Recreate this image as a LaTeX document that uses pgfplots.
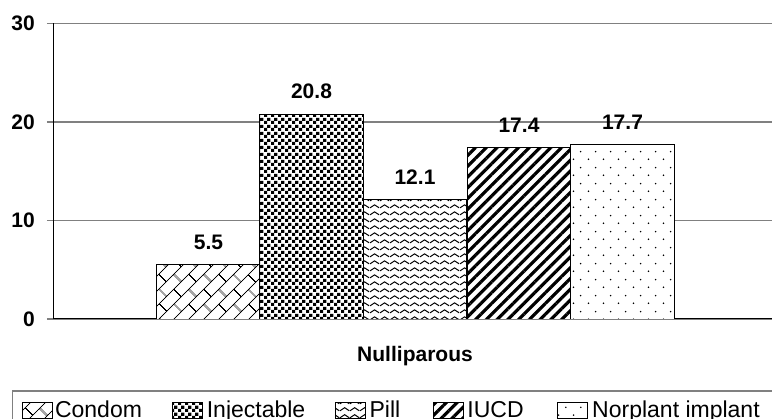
\documentclass[border=0pt]{standalone}
\usepackage{fontspec}
\setmainfont{Liberation Sans}
\usepackage{pgfplots}
\pgfplotsset{compat=1.18}
\usetikzlibrary{patterns,patterns.meta}

\tikzdeclarepattern{name=dbricks, type=uncolored,
  bounding box={(0pt,0pt) and (21pt,21.2pt)}, tile size={(21pt,21.2pt)},
  tile transformation={rotate=45},
  code={\draw[line width=0.9pt] (-1pt,1pt)--(22pt,1pt) (-1pt,11.6pt)--(22pt,11.6pt)
        (5pt,1pt)--(5pt,11.6pt) (15.5pt,11.6pt)--(15.5pt,22.2pt) (15.5pt,-1pt)--(15.5pt,1pt);}}
\tikzdeclarepattern{name=checks, type=uncolored,
  bounding box={(0pt,0pt) and (6.6pt,6.6pt)}, tile size={(6.6pt,6.6pt)},
  code={\fill (0pt,0pt) rectangle (3.3pt,3.3pt); \fill (3.3pt,3.3pt) rectangle (6.6pt,6.6pt);}}
\tikzdeclarepattern{name=waves, type=uncolored,
  bounding box={(0pt,0pt) and (10pt,7pt)}, tile size={(10pt,7pt)},
  code={\draw[line width=1.1pt] (0pt,1.3pt) cos (2.5pt,3pt) sin (5pt,4.7pt) cos (7.5pt,3pt) sin (10pt,1.3pt);}}
\tikzdeclarepattern{name=sdots, type=uncolored,
  bounding box={(0pt,0pt) and (15pt,16pt)}, tile size={(15pt,16pt)},
  code={\fill (3.75pt,4pt) circle (0.9pt); \fill (11.25pt,12pt) circle (0.9pt);}}

\newcommand\lf{\fontsize{21}{25}\selectfont}
\newcommand\legf{\fontsize{23}{27}\selectfont}

\pgfplotsset{
  myleg/.style={legend image code/.code={\draw[##1, line width=0.8pt] (0.4pt,-1pt) rectangle (30.4pt,15pt);}},
  mybar/.style={draw=black, line width=0.8pt, preaction={fill=white}, pattern color=black, myleg},
}

\begin{document}
\begin{tikzpicture}
\begin{axis}[
  width=718pt, height=295.5pt, scale only axis,
  xmin=0, xmax=718, ymin=0, ymax=30,
  axis lines=left, axis line style={-, black, line width=1pt},
  ytick={0,10,20,30},
  ymajorgrids, major grid style={line width=1.5pt, color=gray},
  tick align=outside, major tick length=7pt,
  ytick style={gray, line width=1.5pt},
  xtick={361}, xticklabels={Nulliparous}, xtick style={draw=none},
  /pgf/number format/assume math mode=true,
  yticklabel style={font=\lf\bfseries, inner sep=0pt, xshift=-12pt},
  xticklabel style={font=\lf\bfseries, anchor=base, yshift=-35.5pt},
  ybar, bar width=103.5, bar shift=0pt,
  nodes near coords={\pgfmathprintnumber[fixed,fixed zerofill,precision=1]{\pgfplotspointmeta}},
  nodes near coords style={font=\lf\bfseries, inner sep=0pt, anchor=south, yshift=15pt, text=black},
  legend columns=5,
  legend cell align=left,
  legend style={at={(-0.0585,-0.2403)}, anchor=north west, draw=gray, line width=1.5pt,
    font=\legf, inner xsep=9.5pt, inner ysep=10pt, column sep=0pt,
    cells={anchor=base west},
    nodes={inner sep=0pt, text height=16.5pt, text depth=5pt}},
]
\addplot[mybar, pattern=dbricks] coordinates {(154.5,5.5)};
\addlegendentry{\hspace{2pt}\makebox[117pt][l]{Condom}}
\addplot[mybar, pattern=checks] coordinates {(257.5,20.8)};
\addlegendentry{\hspace{4pt}\makebox[128pt][l]{Injectable}}
\addplot[mybar, pattern=waves] coordinates {(361,12.1)};
\addlegendentry{\hspace{4pt}\makebox[63pt][l]{Pill}}
\addplot[mybar, pattern={Lines[angle=45,distance=7.6pt,line width=3.2pt]}] coordinates {(465,17.4)};
\addlegendentry{\hspace{4pt}\makebox[90pt][l]{IUCD}}
\addplot[mybar, pattern=sdots] coordinates {(568.5,17.7)};
\addlegendentry{\hspace{4pt}\makebox[200pt][l]{Norplant implant}}
\end{axis}
\pgfresetboundingbox
\path[use as bounding box] (-54pt,-100pt) rectangle (718pt,319pt);
\end{tikzpicture}
\end{document}
